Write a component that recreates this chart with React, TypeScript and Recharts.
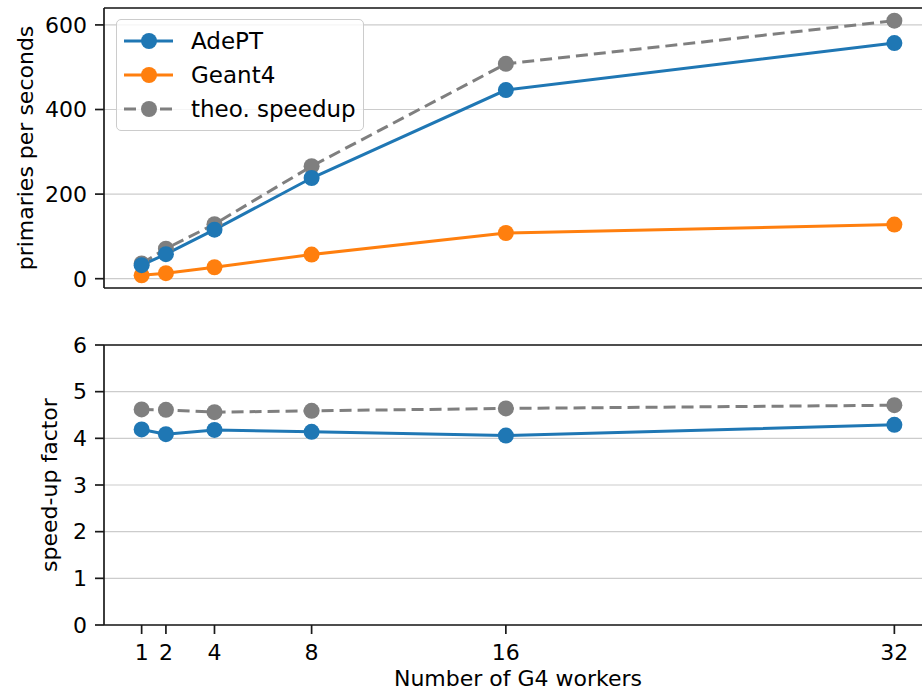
import {
    LineChart, Line, XAxis, YAxis, CartesianGrid, Legend, ReferenceLine,
} from "recharts";

const workers = [1, 2, 4, 8, 16, 32];
const adeptRate = [32, 58, 116, 238, 446, 557];
const geantRate = [8, 13, 27, 57, 108, 128];
const theoRate = [36, 71, 129, 266, 508, 610];
const adeptFactor = [4.19, 4.09, 4.18, 4.14, 4.06, 4.29];
const theoFactor = [4.62, 4.61, 4.56, 4.59, 4.64, 4.71];

const BLUE = "#1f77b4";
const ORANGE = "#ff7f0e";
const GRAY = "#7f7f7f";
const FONT = "DejaVu Sans";

const rateData = workers.map((w, i) => ({
    w, adept: adeptRate[i], geant: geantRate[i], theo: theoRate[i],
}));
const factorData = workers.map((w, i) => ({
    w, adept: adeptFactor[i], theo: theoFactor[i],
}));

const X_DOMAIN: [number, number] = [-0.55, 33.55];
const tickStyle = { fill: "#000", fontSize: 22, fontFamily: FONT };
const labelStyle = { textAnchor: "middle" as const, fill: "#000", fontSize: 22, fontFamily: FONT };
const spine = { stroke: "#1a1a1a", strokeWidth: 1.7 };
const LW = 3;
const DASH = "12 6";

const legendItems = [
    { name: "AdePT", color: BLUE, dashed: false },
    { name: "Geant4", color: ORANGE, dashed: false },
    { name: "theo. speedup", color: GRAY, dashed: true },
];

function LegendBox() {
    return (
        <div style={{
            width: 248, height: 112, border: "1px solid #cccccc", borderRadius: 5,
            background: "rgba(255,255,255,0.8)", paddingTop: 4, boxSizing: "border-box",
            fontFamily: FONT, fontSize: 23, color: "#000",
        }}>
            {legendItems.map((it) => (
                <div key={it.name} style={{ height: 34, display: "flex", alignItems: "center" }}>
                    <svg width={74} height={34} style={{ flexShrink: 0 }}>
                        <line x1={7} x2={56} y1={17} y2={17} stroke={it.color} strokeWidth={LW}
                            strokeDasharray={it.dashed ? DASH : undefined} />
                        <circle cx={32} cy={17} r={8} fill={it.color} />
                    </svg>
                    <span>{it.name}</span>
                </div>
            ))}
        </div>
    );
}

const dot = (c: string) => ({ r: 8, fill: c, stroke: c, strokeWidth: 0 });

export default function App() {
    return (
        <div style={{
            position: "absolute", left: 0, top: 0, width: 922, height: 696,
            overflow: "hidden", background: "#fff", fontFamily: FONT,
        }}>
            <LineChart width={940} height={300} data={rateData}
                margin={{ top: 8, right: 8, left: 0, bottom: 12 }}>
                <CartesianGrid vertical={false} stroke="#cccccc" strokeWidth={1.2} />
                <XAxis dataKey="w" type="number" domain={X_DOMAIN} ticks={workers} hide allowDataOverflow />
                <YAxis type="number" domain={[-22, 640]} ticks={[0, 200, 400, 600]} width={104}
                    allowDataOverflow tick={tickStyle} tickSize={9} tickMargin={8}
                    axisLine={spine} tickLine={spine}
                    label={{
                        value: "primaries per seconds", angle: -90, position: "insideLeft", offset: 25,
                        style: labelStyle,
                    }} />
                <ReferenceLine y={640} {...spine} />
                <ReferenceLine y={-22} {...spine} />
                <Line dataKey="theo" stroke={GRAY} strokeWidth={LW} strokeDasharray={DASH}
                    dot={dot(GRAY)} activeDot={false} isAnimationActive={false} />
                <Line dataKey="geant" stroke={ORANGE} strokeWidth={LW}
                    dot={dot(ORANGE)} activeDot={false} isAnimationActive={false} />
                <Line dataKey="adept" stroke={BLUE} strokeWidth={LW}
                    dot={dot(BLUE)} activeDot={false} isAnimationActive={false} />
                <Legend layout="vertical" align="center" verticalAlign="middle"
                    content={() => <LegendBox />}
                    wrapperStyle={{ position: "absolute", left: 116, top: 19, width: 248, height: 112 }} />
            </LineChart>
            <LineChart width={940} height={396} data={factorData}
                margin={{ top: 45, right: 8, left: 0, bottom: 0 }}>
                <CartesianGrid vertical={false} stroke="#cccccc" strokeWidth={1.2} />
                <XAxis dataKey="w" type="number" domain={X_DOMAIN} ticks={workers} height={71}
                    allowDataOverflow tick={tickStyle} tickSize={9} tickMargin={10}
                    axisLine={spine} tickLine={spine}
                    label={{
                        value: "Number of G4 workers", position: "insideBottom", offset: 10,
                        style: labelStyle,
                    }} />
                <YAxis type="number" domain={[0, 6]} ticks={[0, 1, 2, 3, 4, 5, 6]} width={104}
                    allowDataOverflow tick={tickStyle} tickSize={9} tickMargin={8}
                    axisLine={spine} tickLine={spine}
                    label={{
                        value: "speed-up factor", angle: -90, position: "insideLeft", offset: 49,
                        style: labelStyle,
                    }} />
                <ReferenceLine y={6} {...spine} />
                <Line dataKey="theo" stroke={GRAY} strokeWidth={LW} strokeDasharray={DASH}
                    dot={dot(GRAY)} activeDot={false} isAnimationActive={false} />
                <Line dataKey="adept" stroke={BLUE} strokeWidth={LW}
                    dot={dot(BLUE)} activeDot={false} isAnimationActive={false} />
            </LineChart>
        </div>
    );
}
